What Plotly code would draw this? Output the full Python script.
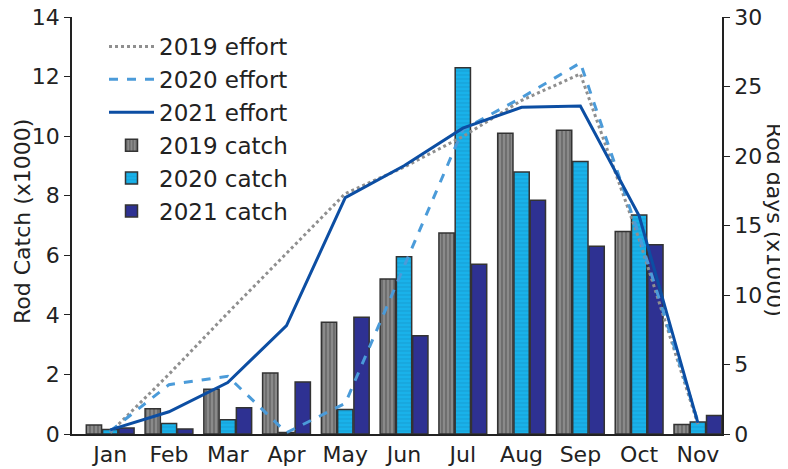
import plotly.graph_objects as go

months = ["Jan", "Feb", "Mar", "Apr", "May", "Jun", "Jul", "Aug", "Sep", "Oct", "Nov"]

catch_2019 = [0.3, 0.85, 1.5, 2.05, 3.75, 5.2, 6.75, 10.1, 10.2, 6.8, 0.32]
catch_2020 = [0.15, 0.35, 0.48, 0.05, 0.82, 5.95, 12.3, 8.8, 9.15, 7.35, 0.4]
catch_2021 = [0.2, 0.17, 0.88, 1.75, 3.92, 3.3, 5.7, 7.85, 6.3, 6.35, 0.62]

effort_2019 = [0.1, 4.3, 8.7, 13.0, 17.3, 19.2, 21.4, 24.0, 25.9, 14.0, 0.7]
effort_2020 = [0.2, 3.55, 4.15, 0.1, 2.2, 12.0, 21.9, 24.2, 26.7, 14.3, 0.9]
effort_2021 = [0.3, 1.6, 3.7, 7.8, 17.0, 19.3, 22.0, 23.5, 23.6, 15.7, 0.8]

xs = list(range(len(months)))
font = "DejaVu Sans"
FS = 22

# page body has an 8px margin: figure drawn from (8, 8)
OFF = 8
W, H = 788 - OFF, 469 - OFF
ML, MT = 72 - OFF, 17 - OFF
MR = 788 - 722
MB = 469 - 434

fig = go.Figure()

# effort lines (secondary axis)
fig.add_trace(go.Scatter(x=xs, y=effort_2019, name="2019 effort", mode="lines",
                         line=dict(color="#8f8f8f", width=3, dash="dot"), yaxis="y2", legendrank=1))
fig.add_trace(go.Scatter(x=xs, y=effort_2020, name="2020 effort", mode="lines",
                         line=dict(color="#4b9bd9", width=3, dash="dash"), yaxis="y2", legendrank=2))
fig.add_trace(go.Scatter(x=xs, y=effort_2021, name="2021 effort", mode="lines",
                         line=dict(color="#0c4ea3", width=3), yaxis="y2", legendrank=3))

# catch bars
fig.add_trace(go.Bar(x=xs, y=catch_2019, name="2019 catch", legendrank=4,
                     marker=dict(color="#8a8a8a", line=dict(color="#333333", width=1.5),
                                 pattern=dict(shape="|", fgcolor="#3a3a3a", bgcolor="#8a8a8a", size=4, solidity=0.35))))
fig.add_trace(go.Bar(x=xs, y=catch_2020, name="2020 catch", legendrank=5,
                     marker=dict(color="#19b2ea", line=dict(color="#333333", width=1.5),
                                 pattern=dict(shape="-", fgcolor="#1790c4", bgcolor="#19b2ea", size=4, solidity=0.3))))
fig.add_trace(go.Bar(x=xs, y=catch_2021, name="2021 catch", legendrank=6,
                     marker=dict(color="#2e3192", line=dict(color="#333333", width=1.5))))

pw = W - ML - MR
ph = H - MT - MB

def px_x(p):  # reference-page pixel -> paper fraction
    return (p - OFF - ML) / pw

def px_y(p):
    return (H - MB - (p - OFF)) / ph

fig.update_layout(
    width=W, height=H,
    margin=dict(l=ML, r=MR, t=MT, b=MB, autoexpand=False),
    paper_bgcolor="white", plot_bgcolor="white",
    barmode="group", bargap=0.17, bargroupgap=0.06,
    font=dict(family=font, size=FS, color="#222222"),
    showlegend=True,
    legend=dict(x=px_x(104), y=px_y(25), xanchor="left", yanchor="top", bgcolor="rgba(0,0,0,0)",
                font=dict(size=FS + 1), tracegroupgap=0, itemwidth=45),
    xaxis=dict(range=[-0.65, 10.41], tickmode="array", tickvals=xs, ticktext=months,
               showline=True, linecolor="#222222", linewidth=1.5, ticks="", showgrid=False,
               zeroline=False, tickfont=dict(size=FS), automargin=False),
    yaxis=dict(range=[0, 14], dtick=2, showline=True, linecolor="#222222", linewidth=1.5,
               ticks="outside", ticklen=6, tickcolor="#222222", showgrid=False, zeroline=False,
               tickfont=dict(size=FS), automargin=False, ticklabeloverflow="allow"),
    yaxis2=dict(range=[0, 30], dtick=5, overlaying="y", side="right", showline=True,
                linecolor="#222222", linewidth=1.5, ticks="outside", ticklen=6, tickcolor="#222222",
                showgrid=False, zeroline=False, tickfont=dict(size=FS), automargin=False,
                ticklabeloverflow="allow"),
    annotations=[
        dict(text="Rod Catch (x1000)", x=px_x(22), y=px_y(222), xref="paper", yref="paper",
             xanchor="center", yanchor="middle",
             showarrow=False, textangle=-90, font=dict(size=FS)),
        dict(text="Rod days (x1000)", x=px_x(775), y=px_y(220), xref="paper", yref="paper",
             xanchor="center", yanchor="middle",
             showarrow=False, textangle=90, font=dict(size=FS)),
    ],
)

fig.write_html("out.html")
